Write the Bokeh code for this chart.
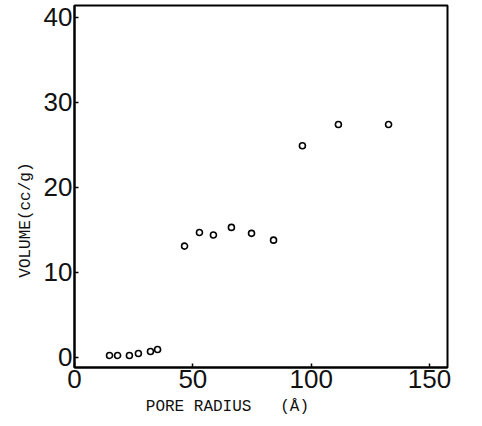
from bokeh.plotting import figure
from bokeh.models import Range1d, FixedTicker, ColumnDataSource
from bokeh.embed import file_html
from bokeh.resources import INLINE

# Data
pore_radius = [14.8, 18.2, 23.2, 27.0, 32.1, 35.1,
               46.5, 52.8, 58.7, 66.3, 74.8, 84.1,
               96.3, 111.5, 132.7]
volume = [0.24, 0.24, 0.24, 0.47, 0.71, 0.94,
          13.1, 14.7, 14.4, 15.3, 14.6, 13.8,
          24.9, 27.4, 27.4]
x_ticks = [0, 50, 100, 150]
y_ticks = [0, 10, 20, 30, 40]
x_title = "PORE RADIUS\u00a0\u00a0\u00a0(Å)"
y_title = "VOLUME(cc/g)"

NB = "\u00a0"

p = figure(width=482, height=426, output_backend="svg", toolbar_location=None,
           x_range=Range1d(0, 157.6), y_range=Range1d(-1.18, 41.4),
           min_border_left=74, min_border_right=35, min_border_top=5,
           min_border_bottom=59)
p.background_fill_color = "white"
p.border_fill_color = "white"
p.outline_line_color = "black"
p.outline_line_width = 2
p.xgrid.visible = False
p.ygrid.visible = False

for ax, ticks in ((p.xaxis, x_ticks), (p.yaxis, y_ticks)):
    ax.ticker = FixedTicker(ticks=ticks)
    ax.axis_line_color = "black"
    ax.axis_line_width = 2
    ax.major_tick_in = 4
    ax.major_tick_out = 0
    ax.major_tick_line_width = 1.5
    ax.minor_tick_line_color = None
    ax.major_label_text_font = "Liberation Sans"
    ax.major_label_text_font_size = "26px"
    ax.major_label_text_color = "#111111"
    ax.major_label_standoff = 2
    ax.axis_label_text_font = "Liberation Mono"
    ax.axis_label_text_font_size = "16px"
    ax.axis_label_text_font_style = "normal"
    ax.axis_label_text_color = "#111111"

p.xaxis.axis_label = x_title + NB * 7
p.xaxis.axis_label_standoff = 7
p.yaxis.axis_label = y_title + NB * 7
p.yaxis.axis_label_standoff = 6

src = ColumnDataSource(dict(x=pore_radius, y=volume))
p.scatter("x", "y", source=src, marker="circle", size=6,
          fill_color="white", line_color="black", line_width=1.6)

open("out.html", "w").write(file_html(p, INLINE))
